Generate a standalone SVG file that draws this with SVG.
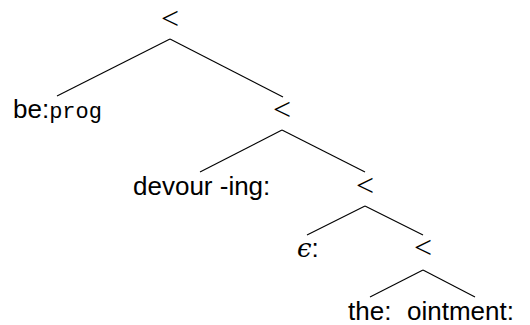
<svg xmlns="http://www.w3.org/2000/svg" width="530" height="325" viewBox="0 0 530 325">
<style>
.t{font-family:"Liberation Sans","DejaVu Sans",sans-serif;font-size:26px;fill:#000}
.m{font-family:"Liberation Mono",monospace;font-size:22px}
.lt{font-family:"Liberation Serif",serif;font-size:32px;fill:#000;text-anchor:middle}
.e{font-family:"DejaVu Serif",serif;font-style:italic}
line{stroke:#000;stroke-width:1.1}
</style>
<rect width="530" height="325" fill="#fff"/>
<g id="n0"><text class="lt" x="170" y="29">&lt;</text></g>
<g id="n1"><text class="t" x="13" y="118">be:<tspan class="m">prog</tspan></text></g>
<g id="n2"><text class="lt" x="282" y="120">&lt;</text></g>
<g id="n3"><text class="t" x="133" y="195">devour -ing:</text></g>
<g id="n4"><text class="lt" x="365" y="196">&lt;</text></g>
<g id="n5"><text class="t" x="297" y="257"><tspan class="e">ϵ</tspan>:</text></g>
<g id="n6"><text class="lt" x="423" y="258">&lt;</text></g>
<g id="n7"><text class="t" x="348" y="320">the:</text></g>
<g id="n8"><text class="t" x="407" y="320">ointment:</text></g>
<g id="edges">
<line x1="170" y1="39" x2="57" y2="96"/>
<line x1="170" y1="39" x2="283" y2="97"/>
<line x1="282" y1="130" x2="200" y2="172"/>
<line x1="282" y1="130" x2="365" y2="172"/>
<line x1="365" y1="206" x2="307" y2="235"/>
<line x1="365" y1="206" x2="423" y2="235"/>
<line x1="423" y1="270" x2="370" y2="297"/>
<line x1="423" y1="270" x2="475" y2="297"/>
</g>
</svg>
